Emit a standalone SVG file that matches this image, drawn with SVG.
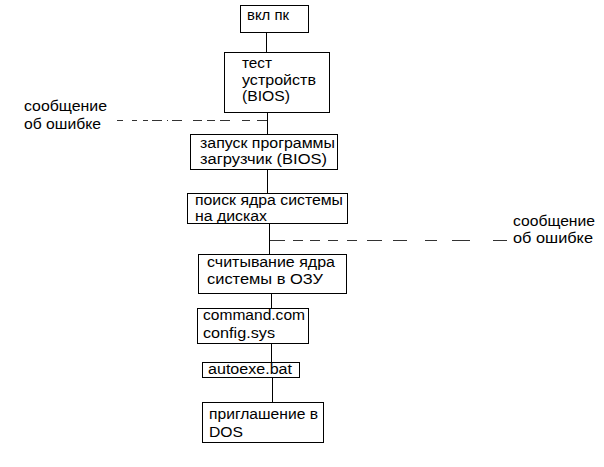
<svg xmlns="http://www.w3.org/2000/svg" width="604" height="467" viewBox="0 0 604 467">
<style>
.box{fill:#fff;stroke:#000;stroke-width:1}
.t{font-family:"Liberation Sans",Arial,sans-serif;font-size:14px;fill:#000}
.ln{stroke:#000;stroke-width:1;fill:none}
.dl{stroke:#333;stroke-width:1;fill:none}
</style>
<rect width="604" height="467" fill="#fff"/>
<g id="connectors">
<line class="ln" x1="266.5" y1="32" x2="266.5" y2="52"/>
<line class="ln" x1="267.5" y1="112" x2="267.5" y2="134"/>
<line class="ln" x1="267.5" y1="169" x2="267.5" y2="193"/>
<line class="ln" x1="269.5" y1="223" x2="269.5" y2="254"/>
<line class="ln" x1="271.5" y1="293" x2="271.5" y2="308"/>
<line class="ln" x1="271.5" y1="343" x2="271.5" y2="362"/>
<line class="ln" x1="272.5" y1="377" x2="272.5" y2="402"/>
<path class="dl" d="M117 120.5h6M132 120.5h5M143 120.5h5M152 120.5h10M167 120.5h1M172 120.5h10M193 120.5h9M207 120.5h8M220 120.5h10M242 120.5h8M257 120.5h10"/>
<path class="dl" d="M270 240.5h15M293 240.5h10M310 240.5h10M328 240.5h10M347 240.5h10M367 240.5h15M393 240.5h14M425 240.5h12M452 240.5h18M493 240.5h14"/>
</g>
<g id="n1"><rect class="box" x="240.5" y="5.5" width="68" height="27"/><text class="t" x="247" y="20" textLength="42" lengthAdjust="spacingAndGlyphs">вкл пк</text></g>
<g id="n2"><rect class="box" x="224.5" y="52.5" width="105" height="60"/>
<text class="t" x="242" y="68" textLength="30" lengthAdjust="spacingAndGlyphs">тест</text>
<text class="t" x="242" y="85" textLength="74" lengthAdjust="spacingAndGlyphs">устройств</text>
<text class="t" x="242" y="101" textLength="48" lengthAdjust="spacingAndGlyphs">(BIOS)</text></g>
<g id="err1"><text class="t" x="24" y="111" textLength="83" lengthAdjust="spacingAndGlyphs">сообщение</text>
<text class="t" x="24" y="129" textLength="77" lengthAdjust="spacingAndGlyphs">об ошибке</text></g>
<g id="n3"><rect class="box" x="190.5" y="134.5" width="147" height="35"/>
<text class="t" x="200" y="148" textLength="135" lengthAdjust="spacingAndGlyphs">запуск программы</text>
<text class="t" x="200" y="164" textLength="127" lengthAdjust="spacingAndGlyphs">загрузчик (BIOS)</text></g>
<g id="n4"><rect class="box" x="187.5" y="193.5" width="160" height="30"/>
<text class="t" x="195" y="205" textLength="148" lengthAdjust="spacingAndGlyphs">поиск ядра системы</text>
<text class="t" x="195" y="221" textLength="72" lengthAdjust="spacingAndGlyphs">на дисках</text></g>
<g id="err2"><text class="t" x="513" y="226" textLength="82" lengthAdjust="spacingAndGlyphs">сообщение</text>
<text class="t" x="513" y="243" textLength="80" lengthAdjust="spacingAndGlyphs">об ошибке</text></g>
<g id="n5"><rect class="box" x="198.5" y="254.5" width="148" height="39"/>
<text class="t" x="207" y="267" textLength="128" lengthAdjust="spacingAndGlyphs">считывание ядра</text>
<text class="t" x="207" y="284" textLength="116" lengthAdjust="spacingAndGlyphs">системы в ОЗУ</text></g>
<g id="n6"><rect class="box" x="197.5" y="308.5" width="111" height="35"/>
<text class="t" x="203" y="320" textLength="102" lengthAdjust="spacingAndGlyphs">command.com</text>
<text class="t" x="203" y="338" textLength="72" lengthAdjust="spacingAndGlyphs">config.sys</text></g>
<g id="n7"><rect class="box" x="202.5" y="362.5" width="97" height="15"/>
<text class="t" x="208" y="374" textLength="84" lengthAdjust="spacingAndGlyphs">autoexe.bat</text></g>
<g id="n8"><rect class="box" x="202.5" y="402.5" width="121" height="40"/>
<text class="t" x="209" y="419" textLength="109" lengthAdjust="spacingAndGlyphs">приглашение в</text>
<text class="t" x="209" y="437" textLength="34" lengthAdjust="spacingAndGlyphs">DOS</text></g>
</svg>
